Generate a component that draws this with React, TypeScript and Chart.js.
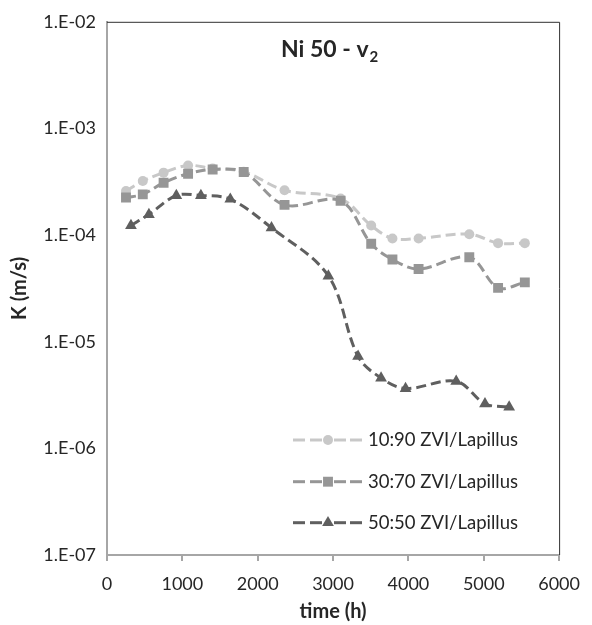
import React, { useEffect, useRef } from 'react';
import { Chart, registerables } from 'chart.js';
import { drawPoint } from 'chart.js/helpers';

Chart.register(...registerables);

// ---- data ----
const timesAB = [252, 475, 751, 1076, 1402, 1814, 2356, 3100, 3506, 3788, 4135, 4808, 5190, 5545];
const k1090 = [2.59e-4, 3.21e-4, 3.85e-4, 4.5e-4, 4.2e-4, 3.93e-4, 2.63e-4, 2.2e-4, 1.23e-4, 9.3e-5, 9.3e-5, 1.02e-4, 8.4e-5, 8.4e-5];
const k3070 = [2.25e-4, 2.41e-4, 3.1e-4, 3.76e-4, 4.12e-4, 3.9e-4, 1.92e-4, 2.1e-4, 8.3e-5, 5.9e-5, 4.8e-5, 6.2e-5, 3.2e-5, 3.6e-5];
const timesC = [318, 556, 920, 1246, 1636, 2183, 2938, 3332, 3637, 3962, 4634, 5016, 5337];
const k5050 = [1.23e-4, 1.56e-4, 2.35e-4, 2.35e-4, 2.17e-4, 1.17e-4, 4.13e-5, 7.28e-6, 4.57e-6, 3.64e-6, 4.26e-6, 2.62e-6, 2.44e-6];
const seriesLabels = ['10:90 ZVI/Lapillus', '30:70 ZVI/Lapillus', '50:50 ZVI/Lapillus'];
const xTicks = [0, 1000, 2000, 3000, 4000, 5000, 6000];
const yTicks = [1e-7, 1e-6, 1e-5, 1e-4, 1e-3, 1e-2];
const titleMain = 'Ni 50 - v';
const titleSub = '2';
const xTitle = 'time (h)';
const yTitle = 'K (m/s)';

const FONT = 'Lato';
const TEXT = '#262626';
const COLORS = ['#c8c8c8', '#969696', '#5f5f5f'];
const STYLES = ['circle', 'rect', 'triangle'];
const RADII = [5, 7, 6.8];

const fmtY = (v: number) => {
  const e = Math.round(Math.log10(v));
  return '1.E' + (e < 0 ? '-' : '+') + String(Math.abs(e)).padStart(2, '0');
};

const decorPlugin = {
  id: 'decor',
  afterDraw(chart: any) {
    const { ctx, chartArea } = chart;
    ctx.save();
    // top and right frame
    ctx.strokeStyle = '#303030';
    ctx.lineWidth = 1;
    ctx.beginPath();
    ctx.moveTo(chartArea.left, chartArea.top + 0.5);
    ctx.lineTo(chartArea.right + 0.5, chartArea.top + 0.5);
    ctx.lineTo(chartArea.right + 0.5, chartArea.bottom);
    ctx.stroke();

    // title
    ctx.fillStyle = TEXT;
    ctx.textBaseline = 'alphabetic';
    ctx.textAlign = 'left';
    ctx.font = `bold 23px ${FONT}`;
    const tx = 281;
    const ty = 57;
    ctx.fillText(titleMain, tx, ty);
    const w = ctx.measureText(titleMain).width;
    ctx.font = `bold 15px ${FONT}`;
    ctx.fillText(titleSub, tx + w + 1, ty + 5);

    // legend
    const rows = [440, 481.7, 522.7];
    chart.data.datasets.forEach((ds: any, i: number) => {
      const y = rows[i];
      ctx.strokeStyle = ds.borderColor;
      ctx.lineWidth = 3;
      ctx.setLineDash([]);
      const segs = [[293, 305], [310, 322], [334, 346], [350, 362]];
      segs.forEach(([a, b]) => {
        ctx.beginPath();
        ctx.moveTo(a, y);
        ctx.lineTo(b, y);
        ctx.stroke();
      });
      ctx.fillStyle = ds.pointBackgroundColor;
      ctx.strokeStyle = ds.pointBorderColor;
      drawPoint(ctx, { pointStyle: ds.pointStyle, radius: ds.pointRadius, borderWidth: 0, rotation: 0 } as any, 328, y);
      ctx.fillStyle = TEXT;
      ctx.font = `18.5px ${FONT}`;
      ctx.textBaseline = 'middle';
      ctx.fillText(ds.label, 368, y);
    });
    ctx.restore();
  },
};

export default function App() {
  const ref = useRef<HTMLCanvasElement | null>(null);
  useEffect(() => {
    if (!ref.current) return;
    const mk = (i: number, xs: number[], ys: number[]) => ({
      label: seriesLabels[i],
      data: xs.map((x, j) => ({ x, y: ys[j] })),
      borderColor: COLORS[i],
      backgroundColor: COLORS[i],
      pointBackgroundColor: COLORS[i],
      pointBorderColor: COLORS[i],
      pointBorderWidth: 0,
      pointStyle: STYLES[i],
      pointRadius: RADII[i],
      borderWidth: 3,
      borderDash: [10, 5],
      tension: 0.35,
      order: 3 - i,
    });
    const chart = new Chart(ref.current, {
      type: 'line',
      data: {
        datasets: [mk(0, timesAB, k1090), mk(1, timesAB, k3070), mk(2, timesC, k5050)],
      },
      plugins: [decorPlugin],
      options: {
        animation: false,
        responsive: false,
        devicePixelRatio: 1,
        layout: { padding: { top: 18, right: 24, left: 0, bottom: 0 } },
        plugins: { legend: { display: false }, title: { display: false }, tooltip: { enabled: false } },
        scales: {
          x: {
            type: 'linear',
            min: 0,
            max: 6000,
            afterBuildTicks: (s: any) => { s.ticks = xTicks.map((v) => ({ value: v })); },
            afterFit: (s: any) => { s.height = 70; },
            ticks: { color: TEXT, font: { family: FONT, size: 18 }, padding: 12, maxRotation: 0, callback: (v: any) => String(v) },
            grid: { drawOnChartArea: false, drawTicks: true, tickLength: 6, color: '#a6a6a6', lineWidth: 2 },
            border: { display: true, color: '#a6a6a6', width: 2 },
            title: { display: true, text: xTitle, color: TEXT, font: { family: FONT, size: 20, weight: 'bold' }, padding: { top: 0, bottom: 1 } },
          },
          y: {
            type: 'logarithmic',
            min: 1e-7,
            max: 1e-2,
            afterBuildTicks: (s: any) => { s.ticks = yTicks.map((v) => ({ value: v })); },
            afterFit: (s: any) => { s.width = 107; },
            ticks: { color: TEXT, font: { family: FONT, size: 18 }, padding: 11, callback: (v: any) => fmtY(Number(v)) },
            grid: { drawOnChartArea: false, drawTicks: false },
            border: { display: true, color: '#a6a6a6', width: 2 },
            title: { display: true, text: yTitle, color: TEXT, font: { family: FONT, size: 20, weight: 'bold' }, padding: { top: 8, bottom: 0 } },
          },
        },
      } as any,
    });
    return () => chart.destroy();
  }, []);
  return (
    <div style={{ position: 'fixed', left: 0, top: 0, width: 592, height: 625, background: '#fff' }}>
      <canvas ref={ref} width={592} height={625} />
    </div>
  );
}
